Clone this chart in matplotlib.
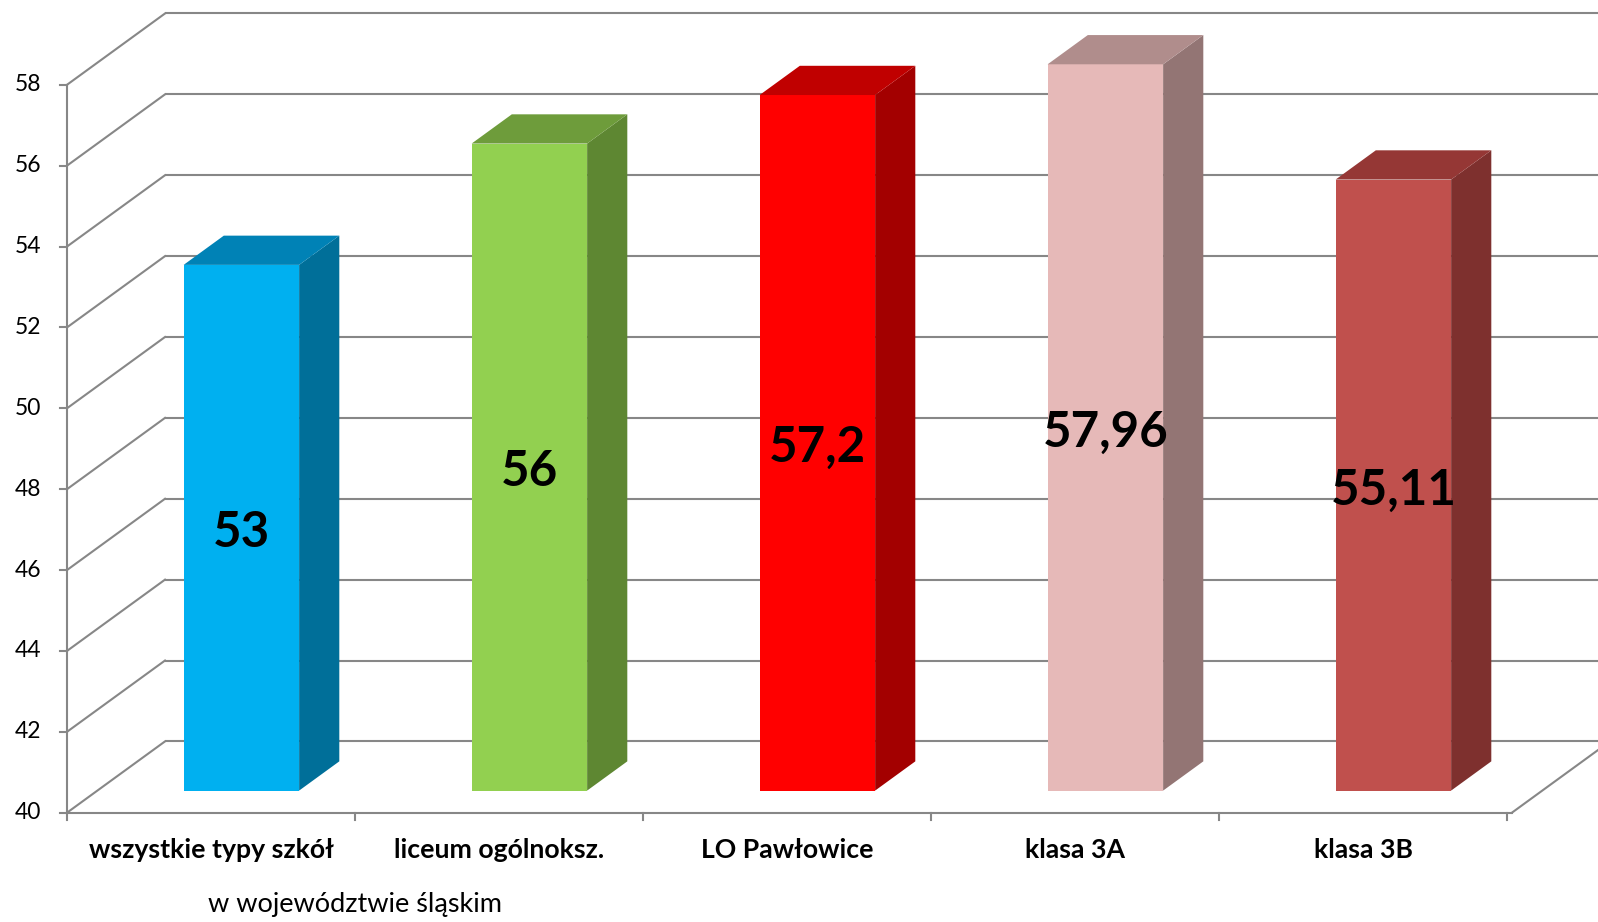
import matplotlib
matplotlib.use("Agg")
import matplotlib.pyplot as plt

# ---- data ----
categories = ["wszystkie typy szkół", "liceum ogólnoksz.", "LO Pawłowice", "klasa 3A", "klasa 3B"]
values = [53, 56, 57.2, 57.96, 55.11]
value_labels = ["53", "56", "57,2", "57,96", "55,11"]
y_ticks = [40, 42, 44, 46, 48, 50, 52, 54, 56, 58]
subtitle = "w województwie śląskim"

front_colors = ["#00B0F0", "#92D050", "#FF0000", "#E6B9B8", "#C0504D"]
side_colors = ["#006F99", "#5E8732", "#A30000", "#937574", "#7E302E"]
top_colors = ["#0082B6", "#6E9C3B", "#C00000", "#B08D8C", "#953735"]

# ---- geometry (oblique 3D projection in data units) ----
W, H, DPI = 15.98, 9.22, 100
x_lo, x_hi = -67 / 288, (1598 - 67) / 288
y_base = 40
px_per_unit = 40.44
y_lo = y_base - (922 - 812.7) / px_per_unit
y_hi = y_base + 812.7 / px_per_unit
DX, DY = 98 / 288, 71.3 / px_per_unit      # full floor depth
f0, fd = 0.31, 0.41                         # bar front offset / bar depth (fraction)
bar_w = 0.401
n = len(categories)

fig = plt.figure(figsize=(W, H), dpi=DPI)
ax = fig.add_axes([0, 0, 1, 1])
ax.set_xlim(x_lo, x_hi)
ax.set_ylim(y_lo, y_hi)
ax.axis("off")

grid_c = "#878787"
lw = 1.5
ymax = y_ticks[-1]

# back wall gridlines
for t in y_ticks:
    ax.plot([DX, n + DX + 1], [t + DY, t + DY], color=grid_c, lw=lw, zorder=1,
            solid_capstyle="butt")
# side wall diagonals
for t in y_ticks:
    ax.plot([0, DX], [t, t + DY], color=grid_c, lw=lw, zorder=1)
# floor right edge
ax.plot([n + 0.017, n + 0.017 + DX], [y_base, y_base + DY], color=grid_c, lw=lw, zorder=1)
# front axis & baseline
ax.plot([0, 0], [y_base, ymax], color=grid_c, lw=lw, zorder=2)
ax.plot([0, n + 0.017], [y_base, y_base], color=grid_c, lw=lw, zorder=2)
# y ticks
tick_len = 7 / 288
for t in y_ticks:
    ax.plot([-tick_len, 0], [t, t], color=grid_c, lw=lw, zorder=2)
    ax.text(-0.09, t, str(t), ha="right", va="center", fontsize=16.5,
            family="Lato", color="#000000")
# x ticks
for i in range(n + 1):
    ax.plot([i, i], [y_base, y_base - 7 / px_per_unit], color=grid_c, lw=lw, zorder=2)

# bars
for i, (v, fc, sc, tc, lab) in enumerate(zip(values, front_colors, side_colors, top_colors, value_labels)):
    xc = i + 0.5 + f0 * DX
    yb = y_base + f0 * DY
    x0, x1 = xc - bar_w / 2, xc + bar_w / 2
    yt = yb + (v - y_base)
    ddx, ddy = fd * DX, fd * DY
    # front
    ax.fill([x0, x1, x1, x0], [yb, yb, yt, yt], color=fc, zorder=5, lw=0)
    # side
    ax.fill([x1, x1 + ddx, x1 + ddx, x1], [yb, yb + ddy, yt + ddy, yt], color=sc, zorder=5, lw=0)
    # top
    ax.fill([x0, x1, x1 + ddx, x0 + ddx], [yt, yt, yt + ddy, yt + ddy], color=tc, zorder=5, lw=0)
    # value label
    ax.text(xc, (yb + yt) / 2 - 0.12, lab, ha="center", va="center", fontsize=35.5,
            fontweight="bold", family="Lato", color="#000000", zorder=6)
    # category label
    ax.text(i + 0.5, y_base - 37 / px_per_unit, categories[i], ha="center", va="center",
            fontsize=19.2, fontweight="bold", family="Lato", color="#000000")

ax.text(1.0, y_base - 92 / px_per_unit, subtitle, ha="center", va="center",
        fontsize=19.5, family="Lato", color="#000000")

fig.savefig("out.png", dpi=DPI)
